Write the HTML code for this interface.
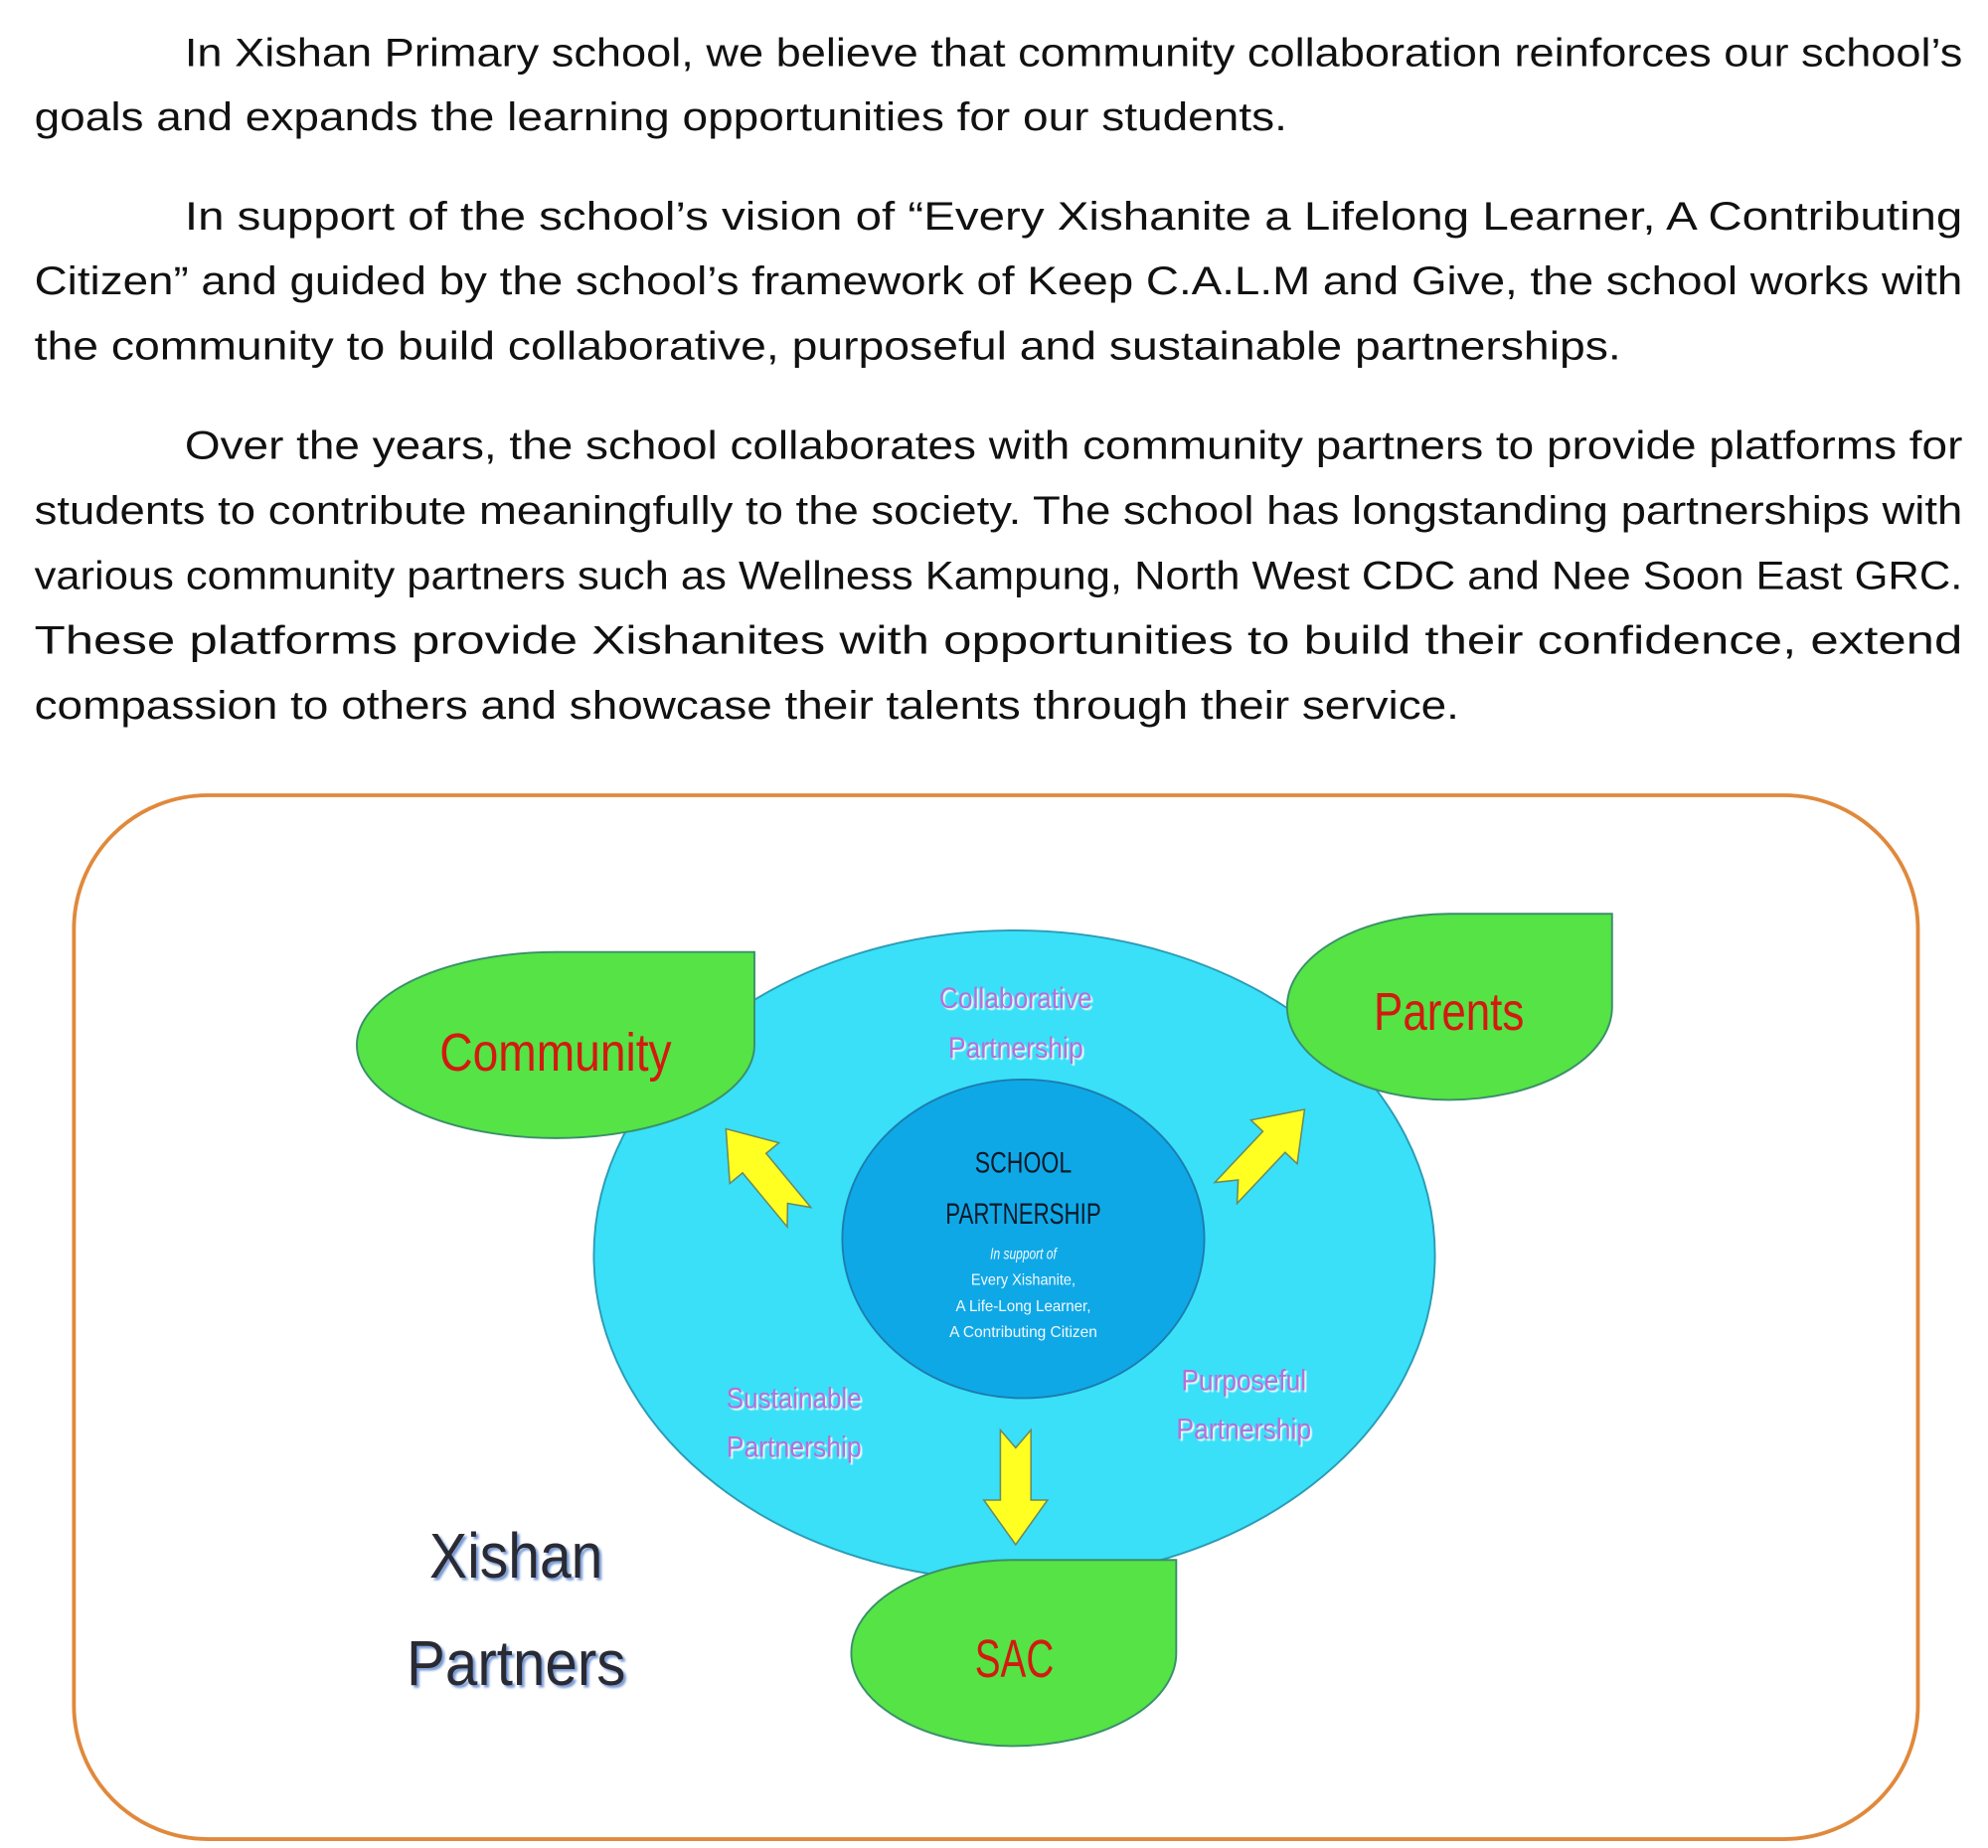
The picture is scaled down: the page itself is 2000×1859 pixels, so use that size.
<!DOCTYPE html>
<html><head><meta charset="utf-8"><style>
html,body{margin:0;padding:0;background:#fff;}
svg{display:block;}
.p{font-family:"Liberation Sans",sans-serif;font-size:31px;fill:#111;}
.lbl{font-family:"Liberation Sans",sans-serif;text-anchor:middle;}
</style></head><body>
<svg width="2000" height="1859" viewBox="0 0 1560 1450" preserveAspectRatio="none" xmlns="http://www.w3.org/2000/svg">
<defs>
<filter id="sh" x="-10%" y="-10%" width="130%" height="130%"><feDropShadow dx="1.5" dy="1.5" stdDeviation="0.5" flood-color="#ffffff" flood-opacity="0.9"/></filter>
<filter id="sh2" x="-10%" y="-10%" width="130%" height="130%"><feDropShadow dx="2" dy="2" stdDeviation="0.8" flood-color="#6a8fd0" flood-opacity="0.9"/></filter>
</defs>
<text class="p" x="145" y="52" textLength="1395" lengthAdjust="spacingAndGlyphs">In Xishan Primary school, we believe that community collaboration reinforces our school’s</text>
<text class="p" x="27" y="102" textLength="983" lengthAdjust="spacingAndGlyphs">goals and expands the learning opportunities for our students.</text>
<text class="p" x="145" y="180" textLength="1395" lengthAdjust="spacingAndGlyphs">In support of the school’s vision of “Every Xishanite a Lifelong Learner, A Contributing</text>
<text class="p" x="27" y="231" textLength="1513" lengthAdjust="spacingAndGlyphs">Citizen” and guided by the school’s framework of Keep C.A.L.M and Give, the school works with</text>
<text class="p" x="27" y="282" textLength="1245" lengthAdjust="spacingAndGlyphs">the community to build collaborative, purposeful and sustainable partnerships.</text>
<text class="p" x="145" y="360" textLength="1395" lengthAdjust="spacingAndGlyphs">Over the years, the school collaborates with community partners to provide platforms for</text>
<text class="p" x="27" y="411" textLength="1513" lengthAdjust="spacingAndGlyphs">students to contribute meaningfully to the society. The school has longstanding partnerships with</text>
<text class="p" x="27" y="462" textLength="1513" lengthAdjust="spacingAndGlyphs">various community partners such as Wellness Kampung, North West CDC and Nee Soon East GRC.</text>
<text class="p" x="27" y="513" textLength="1513" lengthAdjust="spacingAndGlyphs">These platforms provide Xishanites with opportunities to build their confidence, extend</text>
<text class="p" x="27" y="564" textLength="1118" lengthAdjust="spacingAndGlyphs">compassion to others and showcase their talents through their service.</text>

<rect x="58" y="624" width="1447" height="819" rx="105" ry="105" fill="#fff" stroke="#E0893C" stroke-width="3"/>

<ellipse cx="796" cy="985" rx="330" ry="255" fill="#39E0F8" stroke="#2B9BB5" stroke-width="1.5"/>
<ellipse cx="803" cy="972" rx="142" ry="125" fill="#0FA8E6" stroke="#1c7db0" stroke-width="1.5"/>

<path d="M436,747 L592,747 L592,820 A156,73 0 0 1 436,893 A156,73 0 0 1 280,820 A156,73 0 0 1 436,747 Z" fill="#55E345" stroke="#3a8f6a" stroke-width="1.5"/>
<path d="M1137,717 L1265,717 L1265,790 A128,73 0 0 1 1137,863 A128,73 0 0 1 1010,790 A128,73 0 0 1 1137,717 Z" fill="#55E345" stroke="#3a8f6a" stroke-width="1.5"/>
<path d="M795,1224 L923,1224 L923,1297 A128,73 0 0 1 795,1370 A128,73 0 0 1 668,1297 A128,73 0 0 1 795,1224 Z" fill="#55E345" stroke="#3a8f6a" stroke-width="1.5"/>

<g fill="#FFFF22" stroke="#6a8a60" stroke-width="1.2">
<polygon transform="translate(797,1122)" points="-12,0 0,14 12,0 12,55 25,55 0,90 -25,55 -12,55"/>
<polygon transform="translate(627,955) rotate(140.4)" points="-12,0 0,14 12,0 12,55 25,55 0,90 -25,55 -12,55"/>
<polygon transform="translate(962,936) rotate(-136.7)" points="-12,0 0,14 12,0 12,55 25,55 0,90 -25,55 -12,55"/>
</g>

<g class="lbl" fill="#D21A10" font-size="42">
<text x="436" y="840" textLength="182" lengthAdjust="spacingAndGlyphs">Community</text>
<text x="1137" y="808" textLength="118" lengthAdjust="spacingAndGlyphs">Parents</text>
<text x="796" y="1316" textLength="62" lengthAdjust="spacingAndGlyphs">SAC</text>
</g>

<g class="lbl" fill="#B46FD8" font-size="23" filter="url(#sh)">
<text x="797" y="791" textLength="120" lengthAdjust="spacingAndGlyphs">Collaborative</text>
<text x="797" y="830" textLength="106" lengthAdjust="spacingAndGlyphs">Partnership</text>
<text x="623" y="1105" textLength="106" lengthAdjust="spacingAndGlyphs">Sustainable</text>
<text x="623" y="1143" textLength="106" lengthAdjust="spacingAndGlyphs">Partnership</text>
<text x="976" y="1091" textLength="98" lengthAdjust="spacingAndGlyphs">Purposeful</text>
<text x="976" y="1129" textLength="106" lengthAdjust="spacingAndGlyphs">Partnership</text>
</g>

<g class="lbl" fill="#0d1a2a" font-size="23">
<text x="803" y="920" textLength="76" lengthAdjust="spacingAndGlyphs">SCHOOL</text>
<text x="803" y="960" textLength="122" lengthAdjust="spacingAndGlyphs">PARTNERSHIP</text>
</g>
<g class="lbl" fill="#f2f8ff" font-size="12.5">
<text x="803" y="988" font-style="italic" textLength="52" lengthAdjust="spacingAndGlyphs">In support of</text>
<text x="803" y="1008" textLength="82" lengthAdjust="spacingAndGlyphs">Every Xishanite,</text>
<text x="803" y="1029" textLength="106" lengthAdjust="spacingAndGlyphs">A Life-Long  Learner,</text>
<text x="803" y="1049" textLength="116" lengthAdjust="spacingAndGlyphs">A Contributing  Citizen</text>
</g>

<g class="lbl" fill="#2a2a33" font-size="50" filter="url(#sh2)">
<text x="405" y="1238" textLength="136" lengthAdjust="spacingAndGlyphs">Xishan</text>
<text x="405" y="1322" textLength="172" lengthAdjust="spacingAndGlyphs">Partners</text>
</g>
</svg>
</body></html>
